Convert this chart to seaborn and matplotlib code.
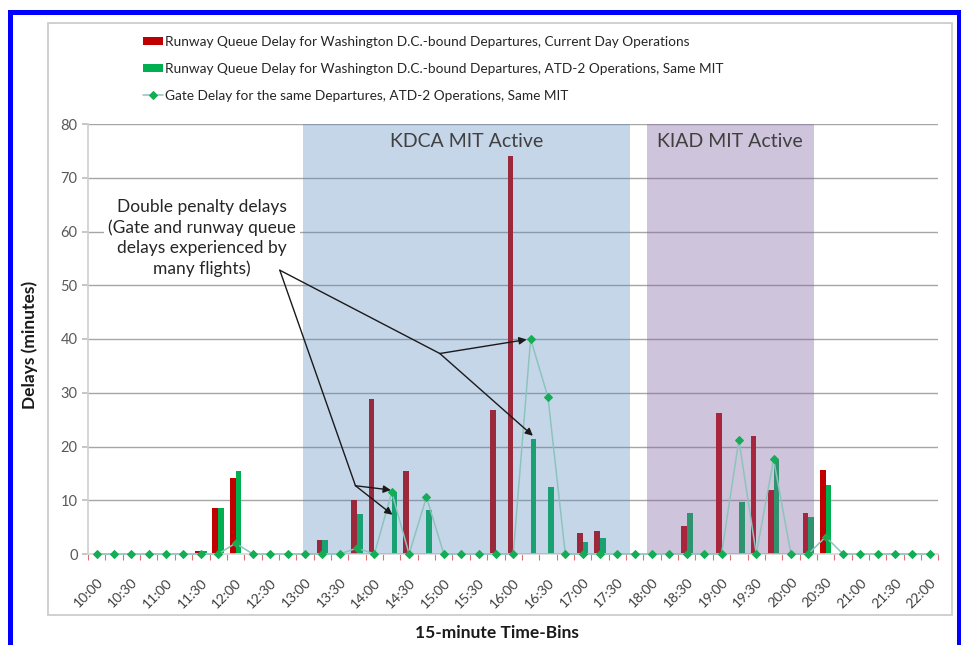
import numpy as np
import pandas as pd
import matplotlib
matplotlib.use("Agg")
import matplotlib.pyplot as plt
from matplotlib.patches import Rectangle
from matplotlib.ticker import FixedLocator
from matplotlib.transforms import ScaledTranslation
import seaborn as sns

# 15-minute time bins, 10:00 .. 22:00
times = ["10:00", "10:15", "10:30", "10:45", "11:00", "11:15", "11:30", "11:45",
         "12:00", "12:15", "12:30", "12:45", "13:00", "13:15", "13:30", "13:45",
         "14:00", "14:15", "14:30", "14:45", "15:00", "15:15", "15:30", "15:45",
         "16:00", "16:15", "16:30", "16:45", "17:00", "17:15", "17:30", "17:45",
         "18:00", "18:15", "18:30", "18:45", "19:00", "19:15", "19:30", "19:45",
         "20:00", "20:15", "20:30", "20:45", "21:00", "21:15", "21:30", "21:45",
         "22:00"]

# runway queue delay, current day operations (minutes)
current_day = [0, 0, 0, 0, 0, 0, 0.6, 8.6, 14.2, 0, 0, 0, 0, 2.6, 0, 10.0,
               28.8, 0, 15.4, 0, 0, 0, 0, 26.8, 74.0, 0, 0, 0, 4.0, 4.2, 0, 0,
               0, 0, 5.2, 0, 26.2, 0, 22.0, 12.0, 0, 7.6, 15.6, 0, 0, 0, 0, 0,
               0]
# runway queue delay, ATD-2 operations
atd2 = [0, 0, 0, 0, 0, 0, 0.6, 8.6, 15.4, 0, 0, 0, 0, 2.6, 0, 7.4,
        0, 11.6, 0, 8.1, 0, 0, 0, 0, 0, 21.4, 12.4, 0, 2.3, 3.0, 0, 0,
        0, 0, 7.6, 0, 0, 9.7, 0, 17.5, 0, 6.8, 12.8, 0, 0, 0, 0, 0,
        0]
# gate delay, ATD-2 operations
gate = [0, 0, 0, 0, 0, 0, 0, 0, 2.0, 0, 0, 0, 0, 0, 0, 1.1,
        0, 11.5, 0, 10.6, 0, 0, 0, 0, 0, 40.0, 29.2, 0, 0, 0, 0, 0,
        0, 0, 0, 0, 0, 21.2, 0, 17.6, 0, 0, 3.2, 0, 0, 0, 0, 0,
        0]

lab_cur = "Runway Queue Delay for Washington D.C.-bound Departures, Current Day Operations"
lab_atd = "Runway Queue Delay for Washington D.C.-bound Departures, ATD-2 Operations, Same MIT"
lab_gate = "Gate Delay for the same Departures, ATD-2 Operations, Same MIT"

# MIT windows in bin units
kdca_span = (11.87, 30.72)
kiad_span = (31.7, 41.3)

# annotation arrows: trunk start, branch points, arrow tips
arrow_start = (10.55, 52.8)
branches = [((14.91, 12.7), [(16.95, 11.9), (17.04, 7.3)]),
            ((19.77, 37.3), [(24.77, 39.9), (25.13, 22.0)])]

sns.set_theme(style="white")
plt.rcParams["font.family"] = ["Lato", "DejaVu Sans"]

df = pd.DataFrame({
    "time": times * 2,
    "delay": current_day + atd2,
    "series": [lab_cur] * len(times) + [lab_atd] * len(times),
})

fig = plt.figure(figsize=(9.62, 6.45), dpi=100)
ax = fig.add_axes([88 / 962, 1 - 554 / 645, (938.5 - 88) / 962, (554 - 124) / 645])

sns.barplot(data=df, x="time", y="delay", hue="series", order=times,
            hue_order=[lab_cur, lab_atd], palette=["#c00000", "#00b050"],
            width=0.66, errorbar=None, saturation=1, linewidth=0, ax=ax)
sns.lineplot(x=np.arange(len(times)), y=gate, color="#8cc4bd", lw=1.1,
             marker="D", markersize=4, markerfacecolor="#14ad55",
             markeredgecolor="#14ad55", label=lab_gate, clip_on=False,
             zorder=4, ax=ax)

# MIT active windows (translucent overlay)
ax.axvspan(*kdca_span, color="#4f81bd", alpha=0.32, lw=0, zorder=3)
ax.axvspan(*kiad_span, color="#8064a2", alpha=0.38, lw=0, zorder=3)
ax.text(np.mean(kdca_span), 76.7, "KDCA MIT Active", ha="center", va="center",
        fontsize=14, color="#404040", zorder=6)
ax.text(np.mean(kiad_span), 76.7, "KIAD MIT Active", ha="center", va="center",
        fontsize=14, color="#404040", zorder=6)

ax.set_xlim(-0.5, len(times) - 0.5)
ax.set_ylim(0, 80)
ax.set_yticks(range(0, 81, 10))
ax.yaxis.grid(True, color="#a6a6a6", lw=1)
ax.set_axisbelow(True)
ax.set_xticks(range(0, len(times), 2))
ax.set_xticklabels(times[::2], rotation=45, ha="right", rotation_mode="anchor")
shift = ScaledTranslation(3 / 100, 0, fig.dpi_scale_trans)
for lbl in ax.get_xticklabels():
    lbl.set_transform(lbl.get_transform() + shift)
ax.xaxis.set_minor_locator(FixedLocator(np.arange(-0.5, len(times), 1)))
ax.tick_params(axis="x", which="major", length=0, pad=16, labelsize=10,
               labelcolor="#404040")
ax.tick_params(axis="x", which="minor", length=4, width=0.8, color="#e07070",
               bottom=True)
ax.tick_params(axis="y", length=4, color="#bfbfbf", labelsize=10.5,
               labelcolor="#595959", left=True)
ax.set_xlabel("")
ax.set_ylabel("")
for s in ["top", "right"]:
    ax.spines[s].set_visible(False)
ax.spines["left"].set_color("#d0d0d0")
ax.spines["bottom"].set_color("#d9d9d9")

# annotation
ax.text(6.05, 58.8, "Double penalty delays\n(Gate and runway queue\ndelays experienced by\nmany flights)",
        ha="center", va="center", fontsize=12.5, linespacing=1.3, color="#262626",
        bbox=dict(fc="white", ec="none", pad=3), zorder=6)
for vertex, tips in branches:
    ax.annotate("", xy=vertex, xytext=arrow_start,
                arrowprops=dict(arrowstyle="-", color="#1a1a1a", lw=1,
                                shrinkA=0, shrinkB=0), zorder=7)
    for tip in tips:
        ax.annotate("", xy=tip, xytext=vertex,
                    arrowprops=dict(arrowstyle="-|>", color="#1a1a1a", lw=1,
                                    mutation_scale=11, shrinkA=0, shrinkB=0),
                    zorder=7)

handles, labels = ax.get_legend_handles_labels()
ax.get_legend().remove()
order = [labels.index(l) for l in [lab_cur, lab_atd, lab_gate]]
fig.legend([handles[i] for i in order], [labels[i] for i in order],
           loc="upper left", bbox_to_anchor=(143 / 962, 1 - 36 / 645),
           frameon=False, fontsize=9.8, handlelength=1.5, handleheight=0.55,
           handletextpad=0.15, labelspacing=1.1, borderpad=0, borderaxespad=0,
           labelcolor="#262626")

fig.text(30 / 962, 1 - 345 / 645, "Delays (minutes)", rotation=90, ha="center",
         va="center", fontsize=12.5, fontweight="bold", color="#1a1a1a")
fig.text(497 / 962, 1 - 633 / 645, "15-minute Time-Bins", ha="center",
         va="center", fontsize=12.5, fontweight="bold", color="#1a1a1a")

# chart-area border and blue outer frame
fig.add_artist(Rectangle((48 / 962, 1 - 615 / 645), (952 - 48) / 962, (615 - 23) / 645,
                         transform=fig.transFigure, fill=False, ec="#c8c8c8", lw=1.2))
for x0, y0, w, h in [(8, 10, 5, 640), (8, 10, 954, 5), (957, 10, 5, 640)]:
    fig.add_artist(Rectangle((x0 / 962, 1 - (y0 + h) / 645), w / 962, h / 645,
                             transform=fig.transFigure, fc="#0000ff", ec="none"))

fig.savefig("out.png", dpi=100)
